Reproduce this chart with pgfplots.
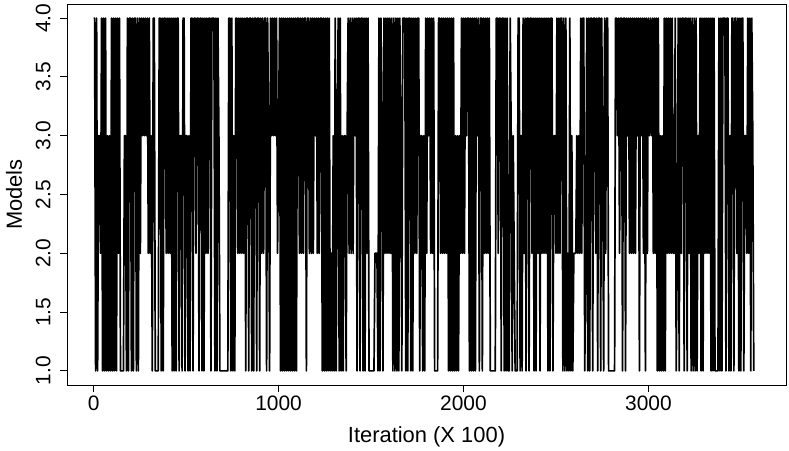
\documentclass[border=0pt]{standalone}
\usepackage{pgfplots}
\pgfplotsset{compat=1.18}
\usepackage{pgfplotstable}
\usepackage{fontspec}
\setmainfont{Liberation Sans}
\usetikzlibrary{calc}

% model index of the sampler, one value per pixel column (every ~5.4 iterations x 100)
\pgfplotstableread[row sep=\\]{
model\\
4\\4\\1\\4\\1\\3\\
3\\2\\4\\1\\4\\1\\4\\1\\3\\1\\
3\\1\\4\\1\\4\\1\\4\\1\\4\\2\\
4\\1\\1\\1\\1\\3\\3\\1\\4\\1\\
4\\4\\1\\4\\1\\4\\4\\1\\4\\1\\
4\\2\\4\\3\\4\\3\\4\\3\\4\\2\\
4\\2\\3\\1\\4\\4\\1\\1\\1\\1\\
4\\4\\1\\4\\1\\4\\4\\2\\4\\2\\
4\\2\\4\\1\\4\\1\\4\\1\\4\\4\\
1\\3\\3\\1\\4\\4\\1\\3\\3\\1\\
3\\1\\4\\4\\1\\4\\4\\2\\4\\4\\
1\\4\\4\\1\\4\\1\\4\\2\\4\\2\\
4\\4\\1\\4\\4\\4\\1\\4\\1\\4\\
3\\1\\1\\1\\1\\1\\1\\1\\1\\1\\
4\\4\\1\\4\\1\\3\\1\\4\\4\\2\\
4\\2\\4\\2\\4\\2\\4\\1\\4\\4\\
1\\4\\4\\1\\4\\1\\4\\4\\1\\4\\
4\\1\\4\\2\\4\\2\\4\\4\\1\\4\\
3\\1\\4\\3\\4\\3\\4\\3\\4\\2\\
3\\4\\1\\4\\1\\4\\1\\4\\1\\4\\
1\\4\\1\\4\\1\\4\\1\\4\\1\\4\\
4\\2\\4\\2\\4\\2\\4\\4\\1\\4\\
4\\2\\4\\2\\4\\2\\4\\3\\4\\2\\
4\\2\\4\\4\\1\\4\\1\\4\\1\\4\\
1\\4\\1\\2\\1\\3\\1\\4\\1\\3\\
4\\1\\4\\1\\3\\1\\3\\3\\1\\3\\
4\\2\\4\\2\\4\\2\\4\\3\\4\\1\\
4\\4\\1\\4\\4\\1\\4\\1\\4\\2\\
4\\1\\1\\1\\1\\1\\1\\2\\2\\2\\
1\\4\\1\\4\\3\\1\\4\\2\\4\\2\\
4\\2\\4\\2\\4\\1\\4\\1\\4\\1\\
4\\1\\4\\3\\1\\4\\4\\4\\1\\4\\
1\\4\\4\\1\\4\\1\\4\\2\\4\\2\\
4\\4\\1\\3\\3\\1\\3\\1\\4\\2\\
4\\3\\4\\2\\4\\2\\4\\1\\1\\1\\
1\\4\\4\\2\\4\\2\\4\\2\\4\\2\\
4\\1\\4\\1\\4\\1\\4\\1\\3\\1\\
3\\1\\3\\2\\4\\2\\4\\2\\4\\3\\
4\\4\\1\\4\\1\\4\\1\\4\\1\\4\\
3\\4\\1\\4\\4\\1\\4\\2\\4\\2\\
4\\2\\4\\1\\1\\1\\1\\1\\1\\4\\
4\\2\\4\\4\\1\\4\\4\\1\\4\\1\\
4\\1\\1\\4\\3\\1\\3\\2\\1\\1\\
1\\4\\4\\1\\3\\1\\4\\2\\4\\1\\
4\\4\\1\\4\\4\\2\\4\\1\\4\\1\\
4\\2\\4\\1\\4\\2\\4\\2\\4\\2\\
4\\1\\4\\1\\4\\4\\1\\3\\3\\2\\
4\\2\\4\\2\\4\\4\\1\\4\\1\\4\\
1\\2\\1\\4\\1\\3\\1\\2\\2\\2\\
3\\2\\3\\2\\4\\2\\4\\4\\1\\2\\
4\\1\\4\\1\\4\\4\\1\\4\\4\\2\\
4\\1\\4\\4\\1\\4\\3\\1\\4\\2\\
4\\4\\1\\1\\1\\1\\1\\1\\1\\4\\
4\\3\\4\\2\\4\\4\\1\\4\\4\\1\\
4\\3\\4\\2\\4\\2\\4\\2\\4\\2\\
4\\3\\4\\1\\4\\3\\4\\2\\4\\1\\
4\\2\\4\\3\\4\\3\\4\\2\\4\\2\\
4\\1\\4\\1\\3\\1\\3\\1\\4\\1\\
4\\2\\4\\2\\4\\2\\4\\2\\2\\4\\
1\\2\\4\\1\\4\\2\\4\\4\\1\\4\\
4\\1\\4\\2\\4\\1\\4\\1\\4\\1\\
4\\1\\3\\2\\4\\1\\4\\1\\4\\2\\
4\\2\\4\\2\\4\\1\\4\\1\\4\\1\\
1\\1\\1\\4\\1\\4\\1\\4\\4\\4\\
1\\4\\4\\1\\3\\1\\4\\4\\1\\4\\
4\\2\\4\\1\\4\\1\\4\\4\\1\\3\\
3\\2\\4\\2\\4\\1\\4\\3\\1\\
}\trace

\begin{document}
\begin{tikzpicture}
\begin{axis}[
scale only axis,
width=719bp, height=381bp,
xmin=-144, xmax=3744,
ymin=0.88, ymax=4.12,
xtick={0,1000,2000,3000},
ytick={1,1.5,2,2.5,3,3.5,4},
tick align=outside,
tick pos=left,
major tick length=7bp,
axis line style={line width=0.9bp},
every tick/.style={black, line width=0.9bp},
/pgf/number format/assume math mode=true,
tick label style={font=\fontsize{21}{25}\selectfont},
x tick label style={/pgf/number format/set thousands separator={}},
yticklabel shift=6bp,
y tick label style={rotate=90, anchor=south,
  /pgf/number format/.cd, fixed, fixed zerofill, precision=1},
every axis x label/.style={at={(rel axis cs:0.5,0)}, yshift=-57bp, anchor=base,
  font=\fontsize{22}{26}\selectfont},
every axis y label/.style={at={(rel axis cs:0,0.5)}, xshift=-45bp, rotate=90, anchor=base,
  font=\fontsize{22}{26}\selectfont},
xlabel={Iteration (X 100)},
ylabel={Models},
]
\addplot [black, line width=1.7bp, line join=round]
table [x expr=\coordindex*5.376, y=model] {\trace};
\end{axis}
\pgfresetboundingbox
\path ($(current axis.south west)+(-67bp,-66bp)$) rectangle ($(current axis.north east)+(3bp,4bp)$);
\end{tikzpicture}
\end{document}
